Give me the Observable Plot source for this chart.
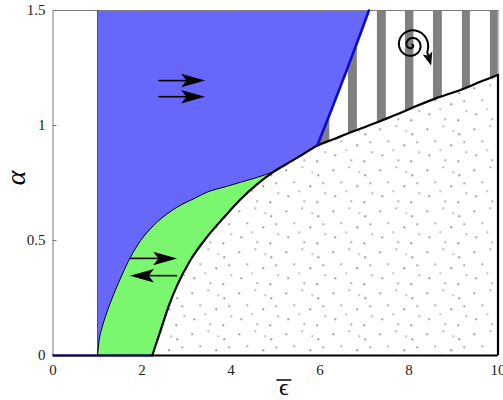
<!DOCTYPE html>
<html>
<head>
<meta charset="utf-8">
<script src="https://cdn.jsdelivr.net/npm/d3@7"></script>
<script src="https://cdn.jsdelivr.net/npm/@observablehq/plot@0.6"></script>
<style>
  body { margin: 0; background: #fff; overflow: hidden; }
  #chart svg { display: block; }
</style>
</head>
<body>
<div id="chart"></div>
<script>
// Axis ticks
const xTicks = [0, 2, 4, 6, 8, 10];
const yTicks = [0, 0.5, 1, 1.5];
const xInnerTicks = [2, 4, 6, 8];
const yInnerTicks = [0.5, 1];

// Edge of the blue region where it meets the green band
const upperX = [1.00, 1.04, 1.10, 1.18, 1.28, 1.40, 1.55, 1.74, 1.97, 2.34, 2.79, 3.20, 3.46, 3.90, 4.21, 4.60, 4.93];
const upperY = [0, 0.07, 0.12, 0.17, 0.225, 0.283, 0.35, 0.427, 0.50, 0.58, 0.645, 0.685, 0.71, 0.735, 0.753, 0.775, 0.797];

// Lower edge of the green band, continuing as the top of the dotted region
const lowerX = [2.23, 2.42, 2.60, 2.79, 3.09, 3.46, 3.84, 4.21, 4.59, 4.93, 5.11, 5.34, 5.56, 5.94, 6.30, 6.61, 7.00, 7.36, 7.75, 8.11, 8.63, 9.23, 9.60, 10];
const lowerY = [0, 0.11, 0.215, 0.305, 0.415, 0.515, 0.60, 0.678, 0.745, 0.795, 0.817, 0.843, 0.868, 0.913, 0.94, 0.964, 0.992, 1.02, 1.05, 1.08, 1.12, 1.16, 1.19, 1.22];

// Blue boundary between the blue region and the striped region
const blueX = [5.94, 6.24, 6.61, 6.91, 7.10];
const blueY = [0.913, 1.06, 1.245, 1.40, 1.5];

// Grey stripes of the striped region
const stripeX1 = [6.01, 6.64, 7.29, 7.92, 8.55, 9.20, 9.83];
const stripeX2 = [6.22, 6.84, 7.49, 8.11, 8.75, 9.38, 10.0];

// Flow arrows (start x, end x, height)
const arrowX1 = [2.38, 2.38, 1.74, 2.80];
const arrowX2 = [3.43, 3.43, 2.80, 1.74];
const arrowY  = [1.193, 1.123, 0.42, 0.345];

// Spiral glyph centre
const spiralX = [8.07];
const spiralY = [1.348];

const xMin = 0, xMax = 10, yMin = 0, yMax = 1.5;
const width = 503, height = 400;
const mL = 52.5, mR = 5.5, mT = 10, mB = 45;
const innerW = width - mL - mR, innerH = height - mT - mB;
const serif = "'Liberation Serif', 'Times New Roman', Times, 'DejaVu Serif', serif";

const pts = (xs, ys) => xs.map((x, i) => ({x, y: ys[i]}));
const upper = pts(upperX, upperY);
const lower = pts(lowerX, lowerY);
const blue = pts(blueX, blueY);
const joinX = upperX[upperX.length - 1];

// Region polygons built from the boundary curves
const dottedPoly = [...lower, {x: xMax, y: yMin}];
const greenPoly = [...upper, ...lower.filter(d => d.x < joinX).reverse()];
const bluePoly = [
  {x: upperX[0], y: yMin}, {x: upperX[0], y: yMax},
  ...blue.slice().reverse(),
  ...lower.filter(d => d.x > joinX && d.x < blueX[0]).reverse(),
  ...upper.slice().reverse()
];
const stripes = stripeX1.map((x1, i) => ({x1, x2: stripeX2[i]}));

// Dot texture for the region under the lower curve
function dotPattern() {
  const svg = d3.create("svg:g");
  const p = svg.append("defs").append("pattern")
    .attr("id", "dots").attr("patternUnits", "userSpaceOnUse")
    .attr("width", 47).attr("height", 41);
  p.append("rect").attr("width", 47).attr("height", 41).attr("fill", "#fff");
  const dots = [[3,5,"#444"],[19,2,"#777"],[35,10,"#333"],[11,17,"#666"],[27,21,"#333"],
                [42,28,"#777"],[5,31,"#444"],[21,36,"#666"],[34,37,"#333"],[16,26,"#888"],[40,18,"#555"],[29,7,"#888"]];
  for (const [dx, dy, c] of dots) {
    p.append("rect").attr("x", dx).attr("y", dy).attr("width", 1.4).attr("height", 1.4).attr("fill", c);
  }
  return svg.node();
}

function drawArrow(g, x1, y1, x2, y2, L, W, sw) {
  const a = Math.atan2(y2 - y1, x2 - x1);
  const ca = Math.cos(a), sa = Math.sin(a);
  const pt = (u, v) => [x2 + u * ca - v * sa, y2 + u * sa + v * ca];
  const n = pt(-0.78 * L, 0);
  g.append("line").attr("x1", x1).attr("y1", y1).attr("x2", n[0]).attr("y2", n[1])
    .attr("stroke", "#000").attr("stroke-width", sw);
  g.append("path")
    .attr("d", `M${pt(0, 0)}L${pt(-L, -W / 2)}L${n}L${pt(-L, W / 2)}Z`)
    .attr("fill", "#000");
}

// Arrows and the spiral, positioned through the plot's scales
function glyphs(index, scales) {
  const {x, y} = scales;
  const g = d3.create("svg:g");
  arrowX1.forEach((_, i) => {
    drawArrow(g, x(arrowX1[i]), y(arrowY[i]), x(arrowX2[i]), y(arrowY[i]), 24, 13.5, 1.6);
  });
  const cx = x(spiralX[0]), cy = y(spiralY[0]);
  const turns = 2.15, rMax = 16.5, phiEnd = 0.42;
  const phiStart = -turns * 2 * Math.PI;
  const path = [];
  for (let k = 0; k <= 240; k++) {
    const phi = phiStart + (phiEnd - phiStart) * k / 240;
    const r = rMax * (phi - phiStart) / (0 - phiStart);
    path.push([cx + r * Math.cos(phi), cy + r * Math.sin(phi)]);
  }
  g.append("path").attr("d", d3.line()(path)).attr("fill", "none")
    .attr("stroke", "#000").attr("stroke-width", 2);
  const last = path[path.length - 1];
  drawArrow(g, last[0], last[1], cx + 19.5, cy + 20.5, 13, 10, 2);
  return g.node();
}

// Axis titles
function titles() {
  const g = d3.create("svg:g");
  g.append("text").attr("transform", "translate(15,178) rotate(-90)")
    .attr("text-anchor", "middle").attr("dominant-baseline", "central")
    .style("font-family", serif).style("font-style", "italic")
    .attr("font-size", 28).attr("fill", "#000").text("α");
  const lx = mL + innerW * 0.52, ly = 395;
  g.append("text").attr("x", lx).attr("y", ly).attr("text-anchor", "middle")
    .style("font-family", serif).attr("font-size", 24).attr("fill", "#000").text("ϵ");
  g.append("line").attr("x1", lx - 7.5).attr("x2", lx + 7.5).attr("y1", 380).attr("y2", 380)
    .attr("stroke", "#000").attr("stroke-width", 1.5);
  return g.node();
}

const tickFont = {fontSize: 15, fontFamily: serif, fill: "#222"};
const smooth = "monotone-x";

const chart = Plot.plot({
  width, height,
  marginLeft: mL, marginRight: mR, marginTop: mT, marginBottom: mB,
  x: {domain: [xMin, xMax]},
  y: {domain: [yMin, yMax]},
  style: {background: "#fff", overflow: "visible"},
  marks: [
    dotPattern,
    Plot.rect(stripes, {x1: "x1", x2: "x2", y1: yMin, y2: yMax, fill: "#808080"}),
    Plot.line(dottedPoly, {x: "x", y: "y", fill: "url(#dots)", stroke: "none"}),
    Plot.line(greenPoly, {x: "x", y: "y", fill: "#7af76f", stroke: "none"}),
    Plot.line(bluePoly, {x: "x", y: "y", fill: "#6767fb", stroke: "none"}),
    Plot.frame({stroke: "#7a7a7a", strokeWidth: 1}),
    Plot.ruleX([upperX[0]], {y1: yMin, y2: yMax, stroke: "#555", strokeWidth: 1}),
    Plot.tickX(xInnerTicks, {x: d => d, insetBottom: innerH - 4, stroke: "#7a7a7a"}),
    Plot.tickY(yInnerTicks, {y: d => d, insetRight: innerW - 4, stroke: "#7a7a7a"}),
    Plot.line(upper, {x: "x", y: "y", curve: smooth, stroke: "#000", strokeWidth: 1}),
    Plot.ruleY([yMin], {x1: xMin, x2: lowerX[0], stroke: "#0b0b50", strokeWidth: 2.5}),
    Plot.ruleY([yMin], {x1: lowerX[0], x2: xMax, stroke: "#000", strokeWidth: 2.2}),
    Plot.ruleX([xMax], {y1: yMin, y2: lowerY[lowerY.length - 1], stroke: "#000", strokeWidth: 2.2}),
    Plot.line(lower, {x: "x", y: "y", curve: smooth, stroke: "#000", strokeWidth: 2.2}),
    Plot.line(blue, {x: "x", y: "y", curve: smooth, stroke: "#0a0ad2", strokeWidth: 2.6}),
    glyphs,
    Plot.axisX(xTicks, {tickSize: 0, tickPadding: 9, label: null, ...tickFont}),
    Plot.axisY(yTicks, {tickSize: 0, tickPadding: 7.5, label: null, tickFormat: d => String(d), ...tickFont}),
    titles
  ]
});
// Serif face for every label
d3.select(chart).selectAll("text").style("font-family", serif);
document.getElementById("chart").append(chart);
</script>
</body>
</html>
